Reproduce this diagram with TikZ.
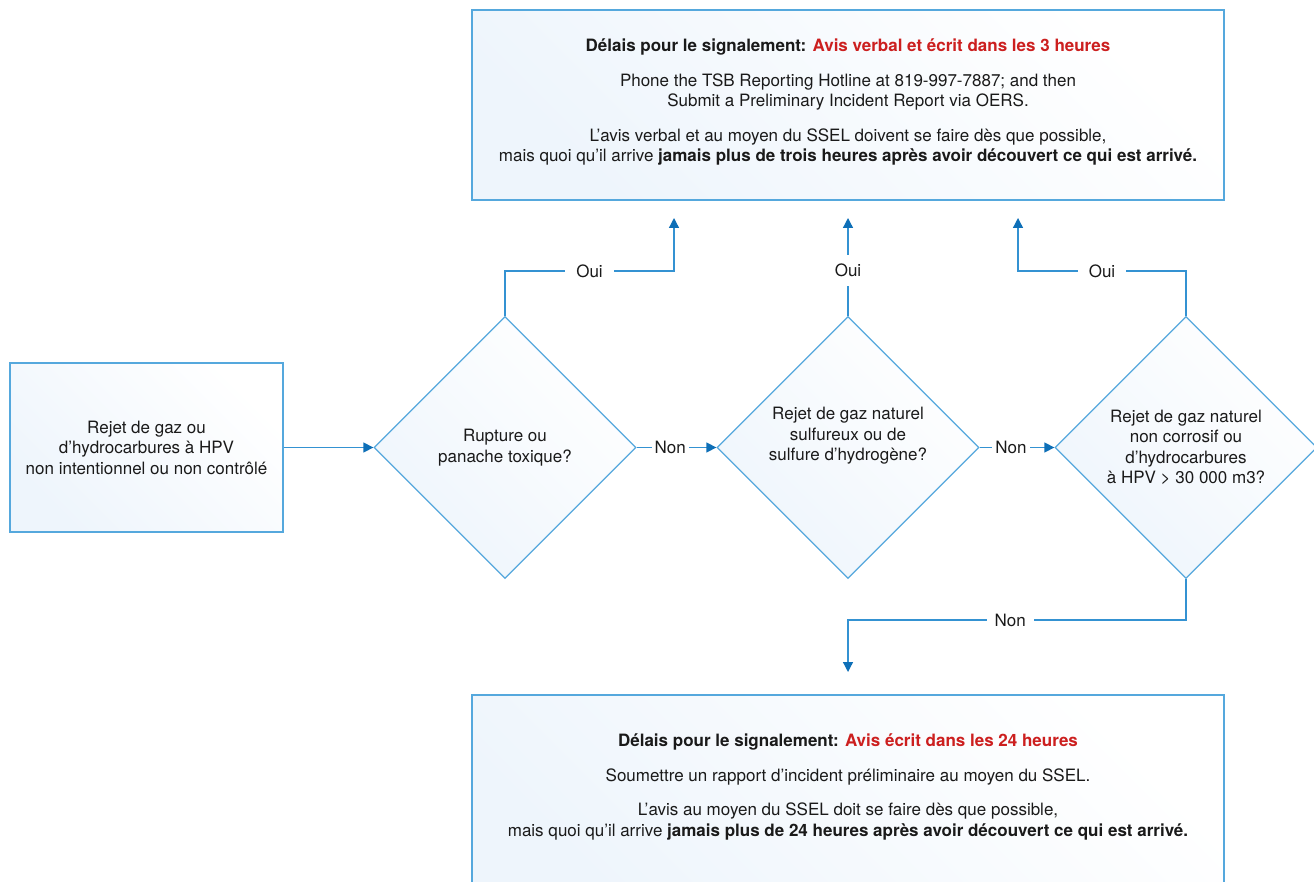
\documentclass[tikz,border=0pt]{standalone}
\usepackage{fontspec}
\setmainfont{TeX Gyre Heros}
\usetikzlibrary{shapes.geometric,arrows.meta,calc}

\definecolor{edge}{HTML}{55A8DD}
\definecolor{wire}{HTML}{3492D2}
\definecolor{tip}{HTML}{0E6FB7}
\definecolor{pale}{HTML}{EEF5FC}
\definecolor{alert}{HTML}{CC1F1F}
\definecolor{ink}{HTML}{1A1A1A}

\tikzset{
  every node/.style={font=\fontsize{17}{20.5}\selectfont, text=ink},
  panel/.style={draw=edge, line width=1.3pt, top color=white, bottom color=pale,
                shading angle=-45, inner sep=0pt},
  decision/.style={panel, shape=diamond, minimum width=262pt, minimum height=262pt,
                   align=center},
  wire/.style={draw=wire, line width=1.3pt},
  flow/.style={wire, -{Triangle[length=10pt,width=10pt,color=tip]}},
  tag/.style={fill=white, inner xsep=#1, inner ysep=2pt},
  tag/.default=11pt,
  msg/.style={align=center, inner sep=0pt}
}

\begin{document}
\begin{tikzpicture}[x=1pt,y=-1pt]
\useasboundingbox (0,0) rectangle (1314,882);
\clip (0,0) rectangle (1314,882);
\fill[white] (0,0) rectangle (1314,882);

% report boxes
\node[panel, minimum width=752pt, minimum height=190pt] (urgent) at (848,105) {};
\node[msg] (urgenttext) at (848,102) {%
  {\bfseries Délais pour le signalement: \textcolor{alert}{Avis verbal et écrit dans les 3 heures}}\\[14pt]
  Phone the TSB Reporting Hotline at 819-997-7887; and then\\
  Submit a Preliminary Incident Report via OERS.\\[14pt]
  L’avis verbal et au moyen du SSEL doivent se faire dès que possible,\\
  mais quoi qu’il arrive \textbf{jamais plus de trois heures après avoir découvert ce qui est arrivé.}};

\node[panel, minimum width=752pt, minimum height=210pt] (later) at (848,800) {};
\node[msg] (latertext) at (848,787) {%
  {\bfseries Délais pour le signalement: \textcolor{alert}{Avis écrit dans les 24 heures}}\\[14pt]
  Soumettre un rapport d’incident préliminaire au moyen du SSEL.\\[14pt]
  L’avis au moyen du SSEL doit se faire dès que possible,\\
  mais quoi qu’il arrive \textbf{jamais plus de 24 heures après avoir découvert ce qui est arrivé.}};

% starting event
\node[panel, minimum width=273pt, minimum height=169pt, align=center] (event) at (146.5,447.5)
  {Rejet de gaz ou\\d’hydrocarbures à HPV\\non intentionnel ou non contrôlé};

% decisions
\node[decision] (q1) at (505,447.5) {Rupture ou\\panache toxique?};
\node[decision] (q2) at (848,447.5) {Rejet de gaz naturel\\sulfureux ou de\\sulfure d’hydrogène?\\[6pt]};
\node[decision] (q3) at (1186,447.5) {Rejet de gaz naturel\\non corrosif ou\\d’hydrocarbures\\à HPV > 30 000 m3?};

% free ends of the arrows
\coordinate (up1) at (674,218);
\coordinate (up2) at (848,218);
\coordinate (up3) at (1018,218);
\coordinate (down) at (848,672);
\coordinate (bend1) at (674,271);
\coordinate (bend3) at (1018,271);
\coordinate (bend4) at (848,620);

% connectors
\draw[flow] (event.east) -- (q1.west);
\draw[flow] (q1.east) -- node[tag=3pt, pos=0.42] (no1) {Non} (q2.west);
\draw[flow] (q2.east) -- node[tag=3pt, pos=0.42] (no2) {Non} (q3.west);

\draw[flow] (q1.north) |- node[tag, pos=0.75] (yes1) {Oui} (bend1) -- (up1);
\draw[flow] (q2.north) -- node[tag=2pt, inner ysep=9pt, pos=0.465] (yes2) {Oui} (up2);
\draw[flow] (q3.north) |- node[tag, pos=0.75] (yes3) {Oui} (bend3) -- (up3);
\draw[flow] (q3.south) |- node[tag=8pt, pos=0.76] (no3) {Non} (bend4) -- (down);
\end{tikzpicture}
\end{document}
